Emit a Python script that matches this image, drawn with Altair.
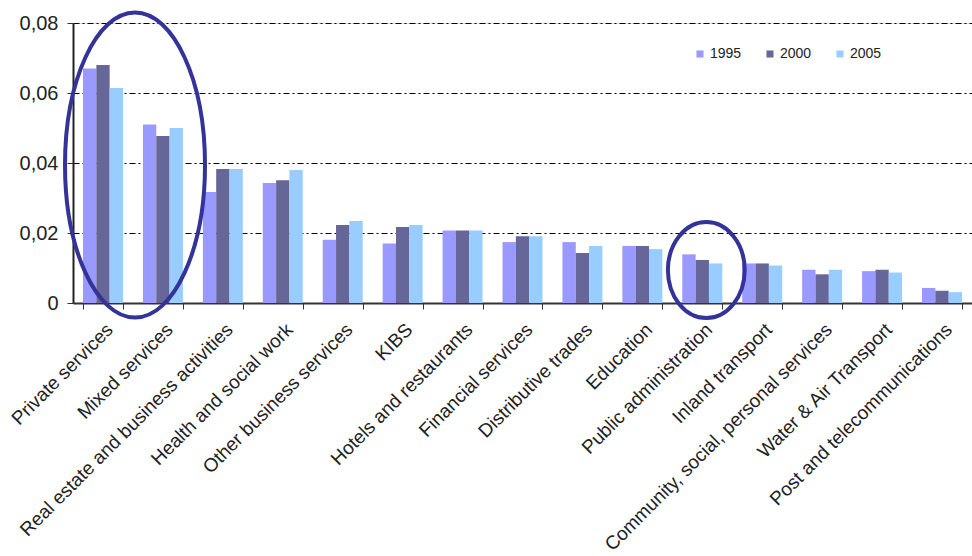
import altair as alt
import pandas as pd

categories = [
    "Private services", "Mixed services", "Real estate and business activities",
    "Health and social work", "Other business services", "KIBS",
    "Hotels and restaurants", "Financial services", "Distributive trades",
    "Education", "Public administration", "Inland transport",
    "Community, social, personal services", "Water & Air Transport",
    "Post and telecommunications",
]
years = ["1995", "2000", "2005"]
v1995 = [0.0670, 0.0510, 0.0317, 0.0343, 0.0181, 0.0170, 0.0207, 0.0174, 0.0174,
         0.0163, 0.0139, 0.0113, 0.0095, 0.0091, 0.0043]
v2000 = [0.0680, 0.0477, 0.0383, 0.0351, 0.0223, 0.0217, 0.0207, 0.0191, 0.0143,
         0.0163, 0.0123, 0.0113, 0.0082, 0.0095, 0.0035]
v2005 = [0.0614, 0.0500, 0.0383, 0.0380, 0.0234, 0.0223, 0.0207, 0.0191, 0.0163,
         0.0154, 0.0113, 0.0107, 0.0095, 0.0087, 0.0031]
colors = ["#9999FF", "#666699", "#99CCFF"]
y_ticks = [0, 0.02, 0.04, 0.06, 0.08]

# annotation ellipses (category anchor, centre value)
ell_cat = ["Private services", "Public administration"]
ell_val = [0.0394, 0.0094]

rows = []
for i, c in enumerate(categories):
    for y, vals in zip(years, [v1995, v2000, v2005]):
        rows.append({"category": c, "year": y, "value": vals[i]})
df = pd.DataFrame(rows)

FONT = "Liberation Sans"

x_enc = alt.X(
    "category:N", sort=categories, title=None,
    scale=alt.Scale(paddingInner=0.333, paddingOuter=0.167),
    axis=alt.Axis(labelAngle=315, labelAlign="right", labelFontSize=19,
                  labelColor="#222", labelFont=FONT, tickBand="extent",
                  tickSize=6, tickColor="#333", domainColor="#333",
                  domainWidth=2, labelPadding=11, labelLimit=500),
)
y_enc = alt.Y(
    "value:Q", title=None,
    scale=alt.Scale(domain=[0, 0.08], nice=False),
    axis=alt.Axis(values=y_ticks, grid=True, gridColor="#000", gridDash=[6, 3, 2, 3],
                  gridWidth=1, labelFontSize=20, labelFont=FONT, labelColor="#222",
                  labelExpr="datum.value == 0 ? '0' : replace(format(datum.value, '.2f'), '.', ',')",
                  tickSize=6, tickColor="#333", domainColor="#222", domainWidth=2,
                  labelPadding=9),
)

bars = alt.Chart(df).mark_bar().encode(
    x=x_enc,
    y=y_enc,
    xOffset=alt.XOffset("year:N", sort=years),
    color=alt.Color(
        "year:N", sort=years, scale=alt.Scale(domain=years, range=colors),
        legend=alt.Legend(orient="none", legendX=620, legendY=24, direction="horizontal",
                          title=None, symbolType="square", symbolSize=50,
                          symbolStrokeWidth=0, labelFontSize=14, labelFont=FONT,
                          labelColor="#222", columnPadding=21, labelOffset=3),
    ),
)

big = alt.Chart(pd.DataFrame({"category": ell_cat[:1], "value": ell_val[:1]})).mark_point(
    shape="M -0.459 0 A 0.459 1 0 1 0 0.459 0 A 0.459 1 0 1 0 -0.459 0 Z",
    filled=False, stroke="#333399", strokeWidth=4, opacity=1,
).encode(
    x=alt.X("category:N", sort=categories),
    y=alt.Y("value:Q"),
    xOffset=alt.value(52),
    size=alt.value(93025),
)
small = alt.Chart(pd.DataFrame({"category": ell_cat[1:], "value": ell_val[1:]})).mark_point(
    shape="M -0.80 0 A 0.80 1 0 1 0 0.80 0 A 0.80 1 0 1 0 -0.80 0 Z",
    filled=False, stroke="#333399", strokeWidth=4, opacity=1,
).encode(
    x=alt.X("category:N", sort=categories),
    y=alt.Y("value:Q"),
    xOffset=alt.value(24),
    size=alt.value(9216),
)

chart = alt.layer(bars, big, small).properties(
    width=899, height=280,
    autosize=alt.AutoSizeParams(type="none"),
    padding={"left": 73, "top": 23, "right": 0, "bottom": 253},
).configure_view(stroke=None).configure(font=FONT)

chart.save("out.html", embed_options={"renderer": "svg", "actions": False})
